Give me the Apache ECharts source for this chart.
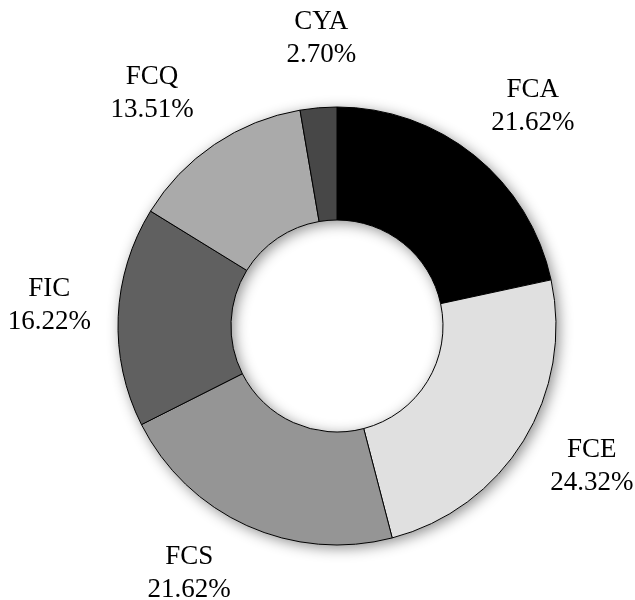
<!DOCTYPE html>
<html>
<head>
<meta charset="utf-8">
<script src="https://cdn.jsdelivr.net/npm/echarts@6/dist/echarts.min.js"></script>
<style>
html,body{margin:0;padding:0;background:#fff;}
#c{width:635px;height:600px;}
</style>
</head>
<body>
<div id="c"></div>
<script>
var categories = ['FCA', 'FCE', 'FCS', 'FIC', 'FCQ', 'CYA'];
var values = [21.62, 24.32, 21.62, 16.22, 13.51, 2.70];
var colors = ['#000000', '#e0e0e0', '#959595', '#606060', '#aaaaaa', '#474747'];
// small label nudges (px) away from the plain radial position
var labelNudge = [[13, 7], [7, -12], [-28, -18], [3, -8], [-22, 9], [9, 2]];

var chart = echarts.init(document.getElementById('c'));
var data = categories.map(function (c, i) {
  return { name: c, value: values[i], itemStyle: { color: colors[i] } };
});
var labelData = categories.map(function (c, i) {
  return { name: c, value: values[i], label: { offset: labelNudge[i] } };
});
var center = [337, 326];
var font = { fontFamily: 'Liberation Serif', fontSize: 27, lineHeight: 33, color: '#000' };
chart.setOption({
  animation: false,
  series: [
    {
      type: 'pie', silent: true, center: center, radius: [106, 219],
      label: { show: false }, labelLine: { show: false },
      itemStyle: { color: '#fff', shadowBlur: 14, shadowColor: 'rgba(0,0,0,0.45)', shadowOffsetX: 3, shadowOffsetY: 3 },
      data: [{ name: 'bg', value: 1 }]
    },
    {
      type: 'pie', center: center, radius: [106, 219], startAngle: 90, clockwise: true,
      label: { show: false }, labelLine: { show: false },
      itemStyle: { borderColor: '#000', borderWidth: 1 },
      data: data
    },
    {
      type: 'pie', silent: true, center: center, radius: [280, 296], startAngle: 90, clockwise: true,
      itemStyle: { color: 'rgba(0,0,0,0)', borderWidth: 0 },
      labelLine: { show: false },
      label: Object.assign({ show: true, position: 'inside', formatter: function (p) { return p.name + '\n' + p.value.toFixed(2) + '%'; } }, font),
      data: labelData
    }
  ]
});
</script>
</body>
</html>
